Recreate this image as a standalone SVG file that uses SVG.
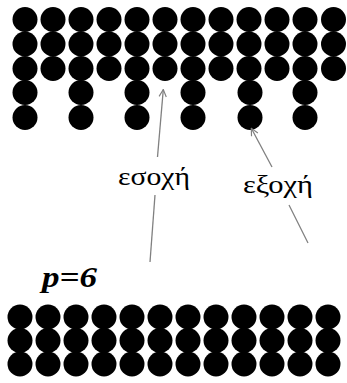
<svg xmlns="http://www.w3.org/2000/svg" xmlns:xlink="http://www.w3.org/1999/xlink" width="347" height="383" viewBox="0 0 347 383">
<style>
.b{fill:#000}
.ln{stroke:#808080;stroke-width:1.3;fill:none}
.gr{font-family:"Liberation Serif","Times New Roman",Times,serif;font-size:26px;fill:#000}
.p{font-family:"Liberation Serif","Times New Roman",Times,serif;font-size:29px;font-weight:bold;font-style:italic;fill:#000}
</style>
<defs>
<circle id="c" r="12.5" class="b"/>
<marker id="ah" viewBox="0 0 10 10" refX="9" refY="5" markerWidth="9" markerHeight="9" markerUnits="userSpaceOnUse" orient="auto">
<path d="M1,1 L9,5 L1,9" stroke="#808080" stroke-width="1.3" fill="none"/>
</marker>
</defs>
<rect width="347" height="383" fill="#fff"/>
<g id="top-layer">
<use xlink:href="#c" x="25" y="19.5"/><use xlink:href="#c" x="53" y="19.5"/><use xlink:href="#c" x="81" y="19.5"/><use xlink:href="#c" x="109" y="19.5"/><use xlink:href="#c" x="137" y="19.5"/><use xlink:href="#c" x="165" y="19.5"/><use xlink:href="#c" x="193" y="19.5"/><use xlink:href="#c" x="221" y="19.5"/><use xlink:href="#c" x="249" y="19.5"/><use xlink:href="#c" x="277" y="19.5"/><use xlink:href="#c" x="305" y="19.5"/><use xlink:href="#c" x="333.5" y="19.5"/>
<use xlink:href="#c" x="25" y="44"/><use xlink:href="#c" x="53" y="44"/><use xlink:href="#c" x="81" y="44"/><use xlink:href="#c" x="109" y="44"/><use xlink:href="#c" x="137" y="44"/><use xlink:href="#c" x="165" y="44"/><use xlink:href="#c" x="193" y="44"/><use xlink:href="#c" x="221" y="44"/><use xlink:href="#c" x="249" y="44"/><use xlink:href="#c" x="277" y="44"/><use xlink:href="#c" x="305" y="44"/><use xlink:href="#c" x="333.5" y="44"/>
<use xlink:href="#c" x="25" y="68.5"/><use xlink:href="#c" x="53" y="68.5"/><use xlink:href="#c" x="81" y="68.5"/><use xlink:href="#c" x="109" y="68.5"/><use xlink:href="#c" x="137" y="68.5"/><use xlink:href="#c" x="165" y="68.5"/><use xlink:href="#c" x="193" y="68.5"/><use xlink:href="#c" x="221" y="68.5"/><use xlink:href="#c" x="249" y="68.5"/><use xlink:href="#c" x="277" y="68.5"/><use xlink:href="#c" x="305" y="68.5"/><use xlink:href="#c" x="333.5" y="68.5"/>
<use xlink:href="#c" x="25" y="92.5"/><use xlink:href="#c" x="81" y="92.5"/><use xlink:href="#c" x="137" y="92.5"/><use xlink:href="#c" x="193" y="92.5"/><use xlink:href="#c" x="250" y="92.5"/><use xlink:href="#c" x="305" y="92.5"/>
<use xlink:href="#c" x="25" y="117.5"/><use xlink:href="#c" x="81" y="117.5"/><use xlink:href="#c" x="137" y="117.5"/><use xlink:href="#c" x="193" y="117.5"/><use xlink:href="#c" x="250" y="117.5"/><use xlink:href="#c" x="305" y="117.5"/>
</g>
<g id="bottom-layer">
<use xlink:href="#c" x="20" y="317"/><use xlink:href="#c" x="48" y="317"/><use xlink:href="#c" x="76" y="317"/><use xlink:href="#c" x="104" y="317"/><use xlink:href="#c" x="132" y="317"/><use xlink:href="#c" x="160" y="317"/><use xlink:href="#c" x="188" y="317"/><use xlink:href="#c" x="216" y="317"/><use xlink:href="#c" x="244" y="317"/><use xlink:href="#c" x="272" y="317"/><use xlink:href="#c" x="300" y="317"/><use xlink:href="#c" x="328" y="317"/>
<use xlink:href="#c" x="20" y="340.5"/><use xlink:href="#c" x="48" y="340.5"/><use xlink:href="#c" x="76" y="340.5"/><use xlink:href="#c" x="104" y="340.5"/><use xlink:href="#c" x="132" y="340.5"/><use xlink:href="#c" x="160" y="340.5"/><use xlink:href="#c" x="188" y="340.5"/><use xlink:href="#c" x="216" y="340.5"/><use xlink:href="#c" x="244" y="340.5"/><use xlink:href="#c" x="272" y="340.5"/><use xlink:href="#c" x="300" y="340.5"/><use xlink:href="#c" x="328" y="340.5"/>
<use xlink:href="#c" x="20" y="364"/><use xlink:href="#c" x="48" y="364"/><use xlink:href="#c" x="76" y="364"/><use xlink:href="#c" x="104" y="364"/><use xlink:href="#c" x="132" y="364"/><use xlink:href="#c" x="160" y="364"/><use xlink:href="#c" x="188" y="364"/><use xlink:href="#c" x="216" y="364"/><use xlink:href="#c" x="244" y="364"/><use xlink:href="#c" x="272" y="364"/><use xlink:href="#c" x="300" y="364"/><use xlink:href="#c" x="328" y="364"/>
</g>
<g id="connectors">
<line class="ln" x1="150" y1="262" x2="155" y2="195"/>
<line class="ln" x1="157.5" y1="157" x2="163.3" y2="89.5" marker-end="url(#ah)"/>
<line class="ln" x1="308" y1="243" x2="289" y2="205"/>
<line class="ln" x1="272" y1="167" x2="251.3" y2="128.3" marker-end="url(#ah)"/>
</g>
<g id="label-esoxi"><text class="gr" x="118" y="185" textLength="72" lengthAdjust="spacingAndGlyphs">εσοχή</text></g>
<g id="label-exoxi"><text class="gr" x="243" y="193" textLength="70" lengthAdjust="spacingAndGlyphs">εξοχή</text></g>
<g id="label-p"><text class="p" x="42" y="287" textLength="55" lengthAdjust="spacingAndGlyphs">p=6</text></g>
</svg>
